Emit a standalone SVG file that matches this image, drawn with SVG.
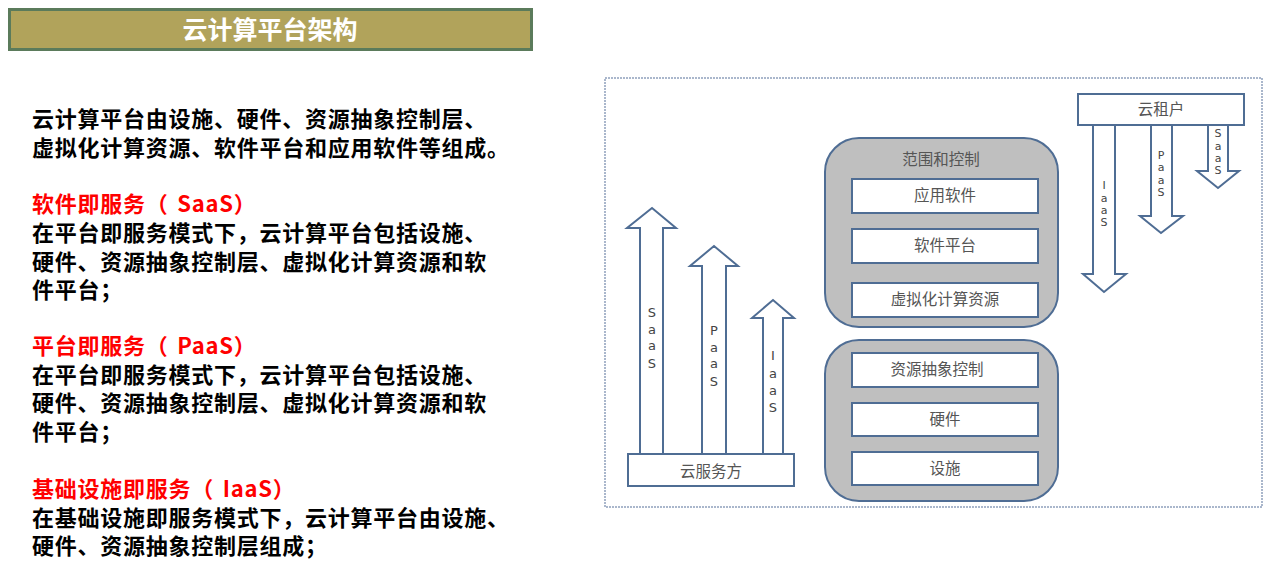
<svg xmlns="http://www.w3.org/2000/svg" width="1275" height="564" viewBox="0 0 1275 564">
<style>
.body{font-family:"Noto Sans CJK SC","Liberation Sans",sans-serif;font-weight:700;font-size:22px;letter-spacing:0.75px;fill:#000}
.red{fill:#FF0000}
.lbl{font-family:"Noto Sans CJK SC","Liberation Sans",sans-serif;font-size:15.5px;fill:#555;text-anchor:middle}
.let{font-family:"DejaVu Sans","Liberation Sans",sans-serif;font-size:13px;fill:#444;text-anchor:middle}
.let2{font-family:"DejaVu Sans","Liberation Sans",sans-serif;font-size:11px;fill:#444;text-anchor:middle}
.arr{fill:#fff;stroke:#4F6D94;stroke-width:2;stroke-linejoin:miter}
.box{fill:#fff;stroke:#4F6D94;stroke-width:2}
.cont{fill:#BFBFBF;stroke:#4F6D94;stroke-width:2}
</style>
<rect width="1275" height="564" fill="#fff"/>
<g id="title">
<rect x="9.5" y="9.5" width="522" height="40" fill="#B1A35B" stroke="#5B7B5B" stroke-width="3"/>
<text x="270" y="38.5" text-anchor="middle" font-family="Noto Sans CJK SC, sans-serif" font-weight="700" font-size="25" fill="#fff">云计算平台架构</text>
</g>
<g id="description">
<text class="body" x="32" y="127">云计算平台由设施、硬件、资源抽象控制层、</text>
<text class="body" x="32" y="156">虚拟化计算资源、软件平台和应用软件等组成。</text>
<text class="body red" x="32" y="212">软件即服务（ <tspan dx="3">SaaS</tspan>）</text>
<text class="body" x="32" y="241">在平台即服务模式下，云计算平台包括设施、</text>
<text class="body" x="32" y="270">硬件、资源抽象控制层、虚拟化计算资源和软</text>
<text class="body" x="32" y="298">件平台；</text>
<text class="body red" x="32" y="354">平台即服务（ <tspan dx="3">PaaS</tspan>）</text>
<text class="body" x="32" y="383">在平台即服务模式下，云计算平台包括设施、</text>
<text class="body" x="32" y="411">硬件、资源抽象控制层、虚拟化计算资源和软</text>
<text class="body" x="32" y="440">件平台；</text>
<text class="body red" x="32" y="497">基础设施即服务（ <tspan dx="3">IaaS</tspan>）</text>
<text class="body" x="32" y="526">在基础设施即服务模式下，云计算平台由设施、</text>
<text class="body" x="32" y="554">硬件、资源抽象控制层组成；</text>
</g>
<g id="frame">
<rect x="605" y="78" width="657" height="429" fill="none" stroke="#8FA0BC" stroke-width="1.5" stroke-dasharray="2 1"/>
</g>
<g id="connectors">
<path id="up-saas" class="arr" d="M640,454 V228 H627 L652,208 L676,228 H663 V454 Z"/>
<path id="up-paas" class="arr" d="M702,454 V266 H690 L714,246 L738,266 H726 V454 Z"/>
<path id="up-iaas" class="arr" d="M763,454 V318 H752 L773,300 L794,318 H783 V454 Z"/>
<path id="down-iaas" class="arr" d="M1093,125 V274 H1083 L1104,292 L1126,274 H1115 V125 Z"/>
<path id="down-paas" class="arr" d="M1151,125 V216 H1140 L1161,233 L1183,216 H1172 V125 Z"/>
<path id="down-saas" class="arr" d="M1208,125 V171 H1197 L1218,188 L1239,171 H1228 V125 Z"/>
<g class="let">
<text x="652" y="317">S</text><text x="652" y="334">a</text><text x="652" y="350">a</text><text x="652" y="368">S</text>
<text x="714" y="335">P</text><text x="714" y="352">a</text><text x="714" y="368">a</text><text x="714" y="386">S</text>
<text x="773" y="360">I</text><text x="773" y="378">a</text><text x="773" y="395">a</text><text x="773" y="412">S</text>
</g>
<g class="let2">
<text x="1104" y="189">I</text><text x="1104" y="202">a</text><text x="1104" y="214">a</text><text x="1104" y="226">S</text>
<text x="1161" y="159">P</text><text x="1161" y="171">a</text><text x="1161" y="184">a</text><text x="1161" y="196">S</text>
<text x="1218" y="137">S</text><text x="1218" y="150">a</text><text x="1218" y="162">a</text><text x="1218" y="174">S</text>
</g>
</g>
<g id="provider">
<rect class="box" x="628" y="454" width="166" height="32"/>
<text class="lbl" x="711" y="477">云服务方</text>
</g>
<g id="tenant">
<rect class="box" x="1078" y="94" width="166" height="31"/>
<text class="lbl" x="1161" y="115">云租户</text>
</g>
<g id="scope">
<rect class="cont" x="825" y="138" width="233" height="189" rx="34" ry="34"/>
<text class="lbl" x="941" y="165">范围和控制</text>
</g>
<g id="app-software">
<rect class="box" x="852" y="179" width="186" height="34"/>
<text class="lbl" x="945" y="201">应用软件</text>
</g>
<g id="software-platform">
<rect class="box" x="852" y="229" width="186" height="34"/>
<text class="lbl" x="945" y="251">软件平台</text>
</g>
<g id="virtual-resources">
<rect class="box" x="852" y="283" width="186" height="34"/>
<text class="lbl" x="945" y="305">虚拟化计算资源</text>
</g>
<g id="lower-layer">
<rect class="cont" x="825" y="340" width="233" height="161" rx="34" ry="34"/>
</g>
<g id="resource-abstraction">
<rect class="box" x="852" y="353" width="186" height="34"/>
<text class="lbl" x="937" y="375">资源抽象控制</text>
</g>
<g id="hardware">
<rect class="box" x="852" y="403" width="186" height="33"/>
<text class="lbl" x="945" y="425">硬件</text>
</g>
<g id="facility">
<rect class="box" x="852" y="452" width="186" height="33"/>
<text class="lbl" x="945" y="474">设施</text>
</g>
</svg>
